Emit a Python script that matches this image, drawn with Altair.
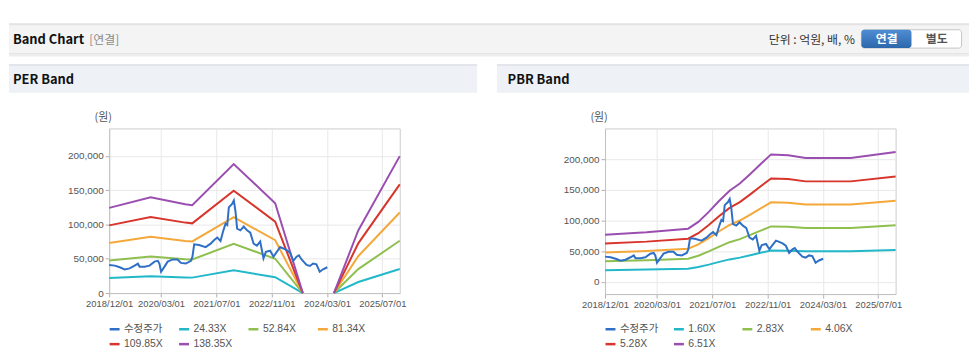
import altair as alt
import pandas as pd

# ---------------- data ----------------
per_names = ["수정주가", "24.33X", "52.84X", "81.34X", "109.85X", "138.35X"]
pbr_names = ["수정주가", "1.60X", "2.83X", "4.06X", "5.28X", "6.51X"]
line_colors = ["#2f6fc6", "#22b8c9", "#8fbf4f", "#f5a83a", "#d7352b", "#9a4fb0"]

price_dates = ["2018-12-01", "2019-01-19", "2019-03-04", "2019-04-17", "2019-05-30", "2019-07-13",
               "2019-08-11", "2019-08-26", "2019-10-08", "2019-11-21", "2020-01-04", "2020-02-02",
               "2020-02-16", "2020-03-02", "2020-03-22", "2020-04-29", "2020-06-12", "2020-07-25",
               "2020-08-23", "2020-10-06", "2020-11-19", "2020-12-03", "2020-12-18", "2021-01-30",
               "2021-03-29", "2021-05-12", "2021-06-10", "2021-07-09", "2021-08-07", "2021-08-28",
               "2021-09-20", "2021-10-05", "2021-10-19", "2021-11-17", "2021-12-02", "2021-12-16",
               "2021-12-31", "2022-01-29", "2022-02-27", "2022-03-28", "2022-04-26", "2022-05-25",
               "2022-06-23", "2022-07-22", "2022-08-20", "2022-09-10", "2022-10-18", "2022-11-16",
               "2022-12-15", "2023-01-13", "2023-02-11", "2023-03-12", "2023-04-10", "2023-05-09",
               "2023-06-07", "2023-06-28", "2023-07-21", "2023-09-03", "2023-10-02", "2023-10-31",
               "2023-11-29", "2023-12-28", "2024-01-26", "2024-03-04"]
price_values = [41000, 40000, 37600, 34500, 36000, 40000, 43000, 38500, 38500, 40000, 45800, 47000,
                43000, 31000, 36000, 45800, 49000, 49000, 44000, 43000, 47000, 53000, 71000, 70000,
                67000, 72000, 77000, 81000, 76000, 89000, 101000, 99000, 125000, 130000, 135000, 120000,
                94000, 91500, 97000, 91500, 88000, 72000, 69000, 75000, 50600, 60000, 61700, 53000,
                60000, 67000, 65000, 62700, 58800, 47000, 53000, 55000, 49000, 41000, 39500, 43000,
                42000, 31000, 34700, 37600]

per_dates = ["2018-12-01", "2019-12-01", "2020-10-01", "2020-12-01", "2021-12-01", "2022-12-01",
             "2023-08-01", "2024-05-01", "2024-12-01", "2025-12-01"]
per_segment = [1, 1, 1, 1, 1, 1, 1, 2, 2, 2]
per_24 = [21848, 24573, 22749, 22505, 33064, 23041, 0, 0, 16058, 35108]
per_52 = [47450, 53368, 49405, 48877, 71810, 50039, 0, 0, 34874, 76248]
per_81 = [73043, 82153, 76053, 75240, 110541, 77029, 0, 0, 53684, 117374]
per_109 = [98645, 110949, 102710, 101611, 149286, 104028, 0, 0, 72501, 158514]
per_138 = [124238, 139734, 129357, 127974, 188018, 131017, 0, 0, 91311, 199639]

pbr_dates = ["2018-12-01", "2019-12-01", "2020-12-01", "2021-03-01", "2021-06-01", "2021-09-01",
             "2021-12-01", "2022-03-01", "2022-06-01", "2022-09-01", "2022-12-01", "2023-05-01",
             "2023-10-01", "2024-11-01", "2025-12-01"]
pbr_160 = [18880, 19840, 21280, 24000, 28000, 32480, 36480, 39360, 43200, 47200, 51040, 50720, 49600, 49600, 52000]
pbr_283 = [33394, 35092, 37639, 42450, 49525, 57449, 64524, 69618, 76410, 83485, 90277, 89711, 87730, 87730, 91975]
pbr_406 = [47908, 50344, 53998, 60900, 71050, 82418, 92568, 99876, 109620, 119770, 129514, 128702, 125860, 125860, 131950]
pbr_528 = [62304, 65472, 70224, 79200, 92400, 107184, 120384, 129888, 142560, 155760, 168432, 167376, 163680, 163680, 171600]
pbr_651 = [76818, 80724, 86583, 97650, 113925, 132153, 148428, 160146, 175770, 192045, 207669, 206367, 201810, 201810, 211575]

x_tick_dates = [(2018, 12), (2020, 3), (2021, 7), (2022, 11), (2024, 3), (2025, 7)]
y_ticks = [0, 50000, 100000, 150000, 200000]

# ---------------- tables ----------------
price_df = pd.DataFrame({"date": price_dates, "value": price_values, "series": "수정주가", "seg": 0})


def band_table(dates, segs, names, columns):
    rows = []
    for name, vals in zip(names, columns):
        for d, s, v in zip(dates, segs, vals):
            rows.append({"date": d, "value": v, "series": name, "seg": s})
    return pd.DataFrame(rows)


per_df = band_table(per_dates, per_segment, per_names[1:], [per_24, per_52, per_81, per_109, per_138])
pbr_df = band_table(pbr_dates, [1] * len(pbr_dates), pbr_names[1:], [pbr_160, pbr_283, pbr_406, pbr_528, pbr_651])

KR = "Noto Sans CJK KR"
LAT = "Liberation Sans, Noto Sans CJK KR"
one = alt.Data(values=[{"k": 0}])


def box(x, x2, y, y2, **kw):
    return alt.Chart(one).mark_rect(**kw).encode(
        x=alt.value(x), x2=alt.value(x2), y=alt.value(y), y2=alt.value(y2))


def label(x, y, s, **kw):
    return alt.Chart(one).mark_text(**kw).encode(x=alt.value(x), y=alt.value(y), text=alt.value(s))


def dt(y, m, d=1):
    return alt.DateTime(year=y, month=m, date=d, utc=True)


def band_panel(bands, names, ydomain, height):
    xenc = alt.X("date:T",
                 scale=alt.Scale(type="utc", domain=[dt(2018, 12), dt(2025, 12)]),
                 axis=alt.Axis(values=[dt(y, m) for y, m in x_tick_dates], format="%Y/%m/%d",
                               labelFlush=False, title=None, labelFontSize=9.5, labelPadding=2))
    yenc = alt.Y("value:Q", scale=alt.Scale(domain=ydomain, nice=False, zero=False),
                 axis=alt.Axis(values=y_ticks, format=",d", title=None, labelFontSize=10, labelPadding=2))
    cenc = alt.Color("series:N", sort=names,
                     scale=alt.Scale(domain=names, range=line_colors),
                     legend=alt.Legend(orient="none", legendX=-1, legendY=196, columns=4,
                                       direction="horizontal", symbolType="stroke", symbolStrokeWidth=2.5,
                                       symbolSize=100, labelFontSize=10.5, labelFont=LAT, labelColor="#555",
                                       columnPadding=10, rowPadding=3, gridAlign="all", title=None,
                                       padding=0, labelOffset=3))
    band_lines = alt.Chart(bands).mark_line(strokeWidth=2).encode(
        x=xenc, y=yenc, color=cenc, detail="seg:N")
    price_line = alt.Chart(price_df).mark_line(strokeWidth=2).encode(x=xenc, y=yenc, color=cenc)
    unit = label(-6, -10, "(원)", font=KR, fontSize=11, color="#555", align="center", baseline="middle")
    return band_lines, price_line, unit


# ---------------- decorations (left panel coordinates) ----------------
deco = [
    box(-101, 867, -119, -105, fill="white"),
    box(-101, 867, -106, -75, fill="#f4f4f4"),
    box(-101, 867, -106, -104, fill="#e3e3e3"),
    box(-101, 867, -75.5, -74.5, fill="#d6d6d6"),
    box(-101, 867, -74.5, -72.5, fill="#ededed"),
    label(-97, -89, "Band Chart", font=KR, fontSize=13, fontWeight="bold", color="#111",
          align="left", baseline="middle"),
    label(-20, -89, "[연결]", font=KR, fontSize=12, color="#8a8a8a", align="left", baseline="middle"),
    label(752, -89, "단위 : 억원, 배, %", font=KR, fontSize=12, color="#333", align="right",
          baseline="middle"),
    box(758.5, 859.5, -99.5, -81, fill="white", stroke="#c5c5c5", strokeWidth=1, cornerRadius=3),
    box(758.5, 809, -99.5, -81, cornerRadius=3,
        fill=alt.LinearGradient(gradient="linear", x1=0, x2=0, y1=0, y2=1,
                                stops=[alt.GradientStop(color="#4f8dd3", offset=0),
                                       alt.GradientStop(color="#2c67ab", offset=1)])),
    label(784, -90, "연결", font=KR, fontSize=12, fontWeight="bold", color="white", align="center",
          baseline="middle"),
    label(834.5, -90, "별도", font=KR, fontSize=12, fontWeight="bold", color="#555", align="center",
          baseline="middle"),
    box(-101, 371, -65, -36, fill="#eef1f6"),
    box(-101, 371, -65, -63, fill="#e2e6ec"),
    label(-97, -49, "PER Band", font=KR, fontSize=13, fontWeight="bold", color="#111", align="left",
          baseline="middle"),
    box(391, 867, -65, -36, fill="#eef1f6"),
    box(391, 867, -65, -63, fill="#e2e6ec"),
    label(401.7, -49, "PBR Band", font=KR, fontSize=13, fontWeight="bold", color="#111", align="left",
          baseline="middle"),
]

per_b, per_p, per_u = band_panel(per_df, per_names, [0, 240000], 166)
pbr_b, pbr_p, pbr_u = band_panel(pbr_df, pbr_names, [-20000, 250000], 167)

left = alt.layer(*deco, per_b, per_p, per_u).properties(width=293, height=166)
right = alt.layer(pbr_b, pbr_p, pbr_u).properties(width=293, height=167)

chart = alt.HConcatChart(hconcat=[left, right], spacing=207, bounds="flush", padding=0).resolve_scale(
    color="independent").resolve_legend(color="independent").configure_view(
    stroke="#cccccc", strokeWidth=1).configure_axis(
    labelFont="Liberation Sans", labelColor="#555", tickColor="#b0b0b0", tickSize=4,
    domainColor="#c0c0c0", gridColor="#e8e8e8", gridWidth=1)

chart.save("out.html", embed_options={"renderer": "svg", "actions": False})
